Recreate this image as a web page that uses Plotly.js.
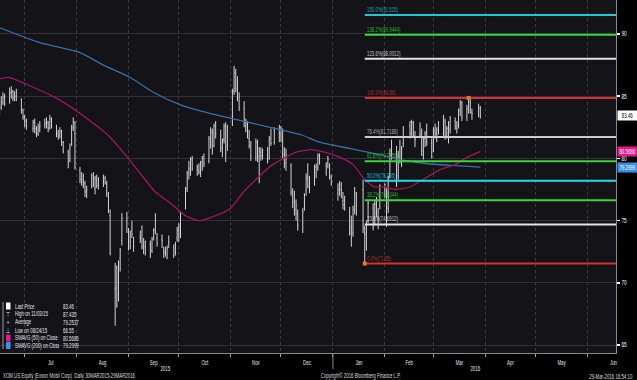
<!DOCTYPE html>
<html><head><meta charset="utf-8">
<script src="https://cdn.plot.ly/plotly-3.0.1.min.js"></script>
<style>html,body{margin:0;padding:0;background:#000;}#chart{width:637px;height:380px;}</style>
</head><body><div id="chart"></div>
<script>
// ---- categories: trading days shown (month, days) ----
const tradingDays = [
 ['2015-06', [16,17,18,19,22,23,24,25,26,29,30]],
 ['2015-07', [1,2,6,7,8,9,10,13,14,15,16,17,20,21,22,23,24,27,28,29,30,31]],
 ['2015-08', [3,4,5,6,7,10,11,12,13,14,17,18,19,20,21,24,25,26,27,28,31]],
 ['2015-09', [1,2,3,4,8,9,10,11,14,15,16,17,18,21,22,23,24,25,28,29,30]],
 ['2015-10', [1,2,5,6,7,8,9,12,13,14,15,16,19,20,21,22,23,26,27,28,29,30]],
 ['2015-11', [2,3,4,5,6,9,10,11,12,13,16,17,18,19,20,23,24,25,27,30]],
 ['2015-12', [1,2,3,4,7,8,9,10,11,14,15,16,17,18,21,22,23,24,28,29,30,31]],
 ['2016-01', [4,5,6,7,8,11,12,13,14,15,19,20,21,22,25,26,27,28,29]],
 ['2016-02', [1,2,3,4,5,8,9,10,11,12,16,17,18,19,22,23,24,25,26,29]],
 ['2016-03', [1,2,3,4,7,8,9,10,11,14,15,16,17,18,21,22,23,24,28,29]]
];
// ---- OHLC values ----
const open = [
 83.8,84.1,84.5,84.9,84.6,85.3,85.4,84.9,85.0,84.8,83.9,
 83.3,83.0,82.4,82.9,82.3,82.0,82.5,82.7,82.8,82.9,82.5,83.1,82.5,82.0,81.8,82.2,81.3,80.5,79.8,81.1,82.5,82.0,
 79.0,78.4,78.2,78.0,77.3,77.8,78.4,77.6,78.3,77.8,78.1,78.4,77.9,77.0,75.4,69.5,71.2,69.6,72.0,73.4,74.9,
 74.0,73.3,74.2,73.4,73.6,74.5,72.8,72.9,73.1,72.6,73.6,74.2,73.6,73.5,72.6,72.4,72.0,73.2,72.8,72.4,73.6,
 74.2,73.9,76.0,77.6,79.1,79.0,79.9,79.1,79.0,78.9,79.7,80.1,79.8,81.5,82.1,81.0,82.8,81.8,80.8,81.5,82.5,81.0,
 82.7,85.4,86.8,85.7,84.6,84.0,82.6,82.9,81.6,81.0,80.1,81.2,80.2,80.5,80.4,80.3,80.0,81.6,81.3,82.0,
 81.8,82.2,80.4,79.6,79.4,76.9,76.5,75.9,75.5,74.8,76.0,77.4,78.5,77.6,78.0,79.3,79.3,80.1,79.4,79.6,79.5,78.5,
 77.2,77.6,77.5,76.6,76.6,75.8,74.5,74.0,75.8,76.2,77.5,73.9,74.0,75.0,76.0,74.8,76.4,75.3,76.2,
 77.4,77.0,76.0,78.6,80.3,80.6,78.6,80.7,79.4,81.2,82.6,82.4,82.9,81.6,81.9,82.2,80.3,81.6,82.2,81.2,
 80.6,82.2,82.0,82.5,82.0,83.0,82.0,82.5,82.3,83.0,82.4,82.6,83.9,84.5,83.4,83.9,84.5,83.7,83.8,84.0
];
const high = [
 84.5,85.0,85.3,85.2,85.7,85.8,85.5,85.4,85.6,84.8,84.0,
 83.5,83.2,83.1,83.2,82.6,82.8,83.0,83.2,83.3,83.0,83.5,83.3,82.7,82.3,82.5,82.3,81.4,80.7,81.2,82.7,83.3,83.0,
 79.3,78.9,78.8,78.2,77.8,78.8,78.9,78.6,78.7,78.5,78.7,78.6,78.2,77.3,75.9,71.6,71.4,71.8,72.8,75.6,75.7,
 74.4,74.2,75.0,73.7,74.2,74.6,73.6,73.4,73.4,73.7,74.4,75.6,74.0,73.9,72.9,72.9,73.0,73.8,73.1,73.3,74.5,
 74.8,75.7,77.7,79.0,79.8,80.1,80.2,79.5,79.6,79.8,80.2,80.4,81.8,82.5,82.4,82.8,83.0,82.3,81.6,82.8,82.9,82.7,
 85.6,87.435,87.2,86.6,85.3,84.6,83.2,83.0,82.3,81.4,81.6,81.5,80.9,80.9,80.8,80.9,81.8,82.4,82.5,82.7,
 82.6,82.4,80.9,80.8,79.6,77.6,77.4,76.7,75.9,76.0,77.2,78.8,79.6,78.6,79.5,79.6,80.4,80.4,79.7,80.2,79.6,78.7,
 78.0,78.2,78.1,77.3,77.0,76.1,75.4,76.2,77.7,77.3,78.3,74.6,75.0,76.6,76.4,76.6,76.9,76.0,77.9,
 78.0,77.6,78.6,80.8,81.5,81.0,80.6,81.5,81.0,82.6,83.0,83.1,83.0,82.2,82.9,82.4,81.7,82.2,82.8,81.6,
 82.5,82.8,82.5,83.0,83.5,83.2,82.6,83.0,83.4,83.3,83.0,84.0,84.7,84.6,84.3,84.86,84.8,84.0,84.4,84.2
];
const low = [
 83.4,83.9,84.3,84.2,84.4,84.8,84.6,84.6,84.6,83.6,83.1,
 82.5,82.3,82.1,82.0,81.7,81.8,82.1,82.4,82.4,82.1,82.3,82.4,81.7,81.5,81.6,81.0,80.4,79.2,79.7,81.0,82.2,79.1,
 78.0,77.8,77.6,76.9,76.8,77.6,77.7,77.1,77.6,77.5,77.7,77.9,76.9,75.6,72.2,66.55,68.0,68.5,70.9,73.0,74.0,
 72.6,72.7,73.6,72.5,73.2,72.7,72.3,72.2,72.0,72.4,73.4,73.9,72.9,72.8,72.0,72.1,71.9,72.8,72.0,72.2,73.3,
 73.3,73.6,75.9,77.3,78.3,78.6,79.0,78.6,78.7,78.5,79.0,79.3,79.6,80.8,80.3,80.9,81.6,80.5,80.1,81.2,79.7,80.6,
 82.6,85.1,85.3,84.6,83.8,82.5,82.1,81.6,80.8,79.8,79.8,79.7,78.0,79.8,79.9,79.6,79.9,81.0,81.1,81.3,
 81.3,80.0,79.2,79.0,77.0,76.0,75.4,75.0,74.2,74.0,75.8,77.0,77.6,77.2,77.8,78.4,79.0,79.5,78.6,79.2,78.3,77.8,
 76.6,77.0,76.8,75.9,75.8,73.8,72.9,73.7,75.5,75.4,74.0,71.55,72.6,74.8,74.2,74.6,75.3,74.3,75.9,
 76.8,74.5,75.6,78.4,79.9,77.7,78.3,79.6,79.3,80.9,81.6,81.8,81.7,80.9,81.7,80.2,79.9,80.9,81.0,80.0,
 80.5,81.6,81.3,81.9,81.8,81.5,81.6,81.2,82.0,82.3,82.0,82.4,83.4,83.0,83.0,83.6,83.6,83.1,83.3,83.2
];
const close = [
 84.1,84.6,84.9,84.4,85.3,85.4,84.9,85.0,85.3,83.9,83.3,
 83.0,82.6,82.9,82.4,81.9,82.3,82.6,82.8,83.0,82.4,83.2,82.6,82.0,81.8,82.2,81.3,80.6,79.6,80.9,82.4,82.9,79.3,
 78.3,78.1,77.9,77.3,77.5,78.6,77.9,78.4,77.8,78.3,78.5,78.0,77.2,75.8,72.4,69.6,68.2,71.6,72.6,75.2,75.2,
 72.9,74.0,73.9,72.9,74.1,72.9,73.2,73.3,72.3,73.5,74.2,74.0,73.2,73.4,72.4,72.5,72.8,73.3,72.2,73.0,74.3,
 74.5,75.6,77.5,78.8,79.2,79.9,79.2,79.3,78.9,79.6,80.0,79.6,81.6,82.2,80.6,82.6,82.0,80.8,81.4,82.6,80.4,82.5,
 85.3,86.9,85.6,84.9,84.1,82.9,82.8,81.9,81.0,80.2,81.3,80.1,80.6,80.2,80.5,79.9,81.5,81.2,82.2,81.7,
 82.3,80.3,79.5,80.3,77.3,76.5,75.8,76.2,74.6,75.7,77.0,78.4,77.8,77.6,79.3,78.8,80.2,79.7,79.1,79.9,78.5,77.95,
 77.5,77.9,77.4,76.3,76.0,74.0,73.6,75.9,77.2,76.9,74.4,73.9,74.4,76.4,74.5,76.3,75.6,75.7,77.85,
 77.9,75.6,78.4,80.6,81.0,79.0,80.2,79.9,80.8,82.4,82.0,82.9,81.9,81.5,82.6,80.6,81.5,82.0,81.3,80.1,
 82.4,82.0,82.3,82.2,83.3,81.8,82.4,81.6,83.2,82.6,82.7,83.8,84.4,83.3,84.0,84.6,83.9,83.6,84.1,83.46
];
// ---- moving averages (read at sample dates) ----
const sma200Dates = ['2015-06-16','2015-07-10','2015-08-03','2015-08-17','2015-09-02','2015-09-16','2015-10-02','2015-10-20','2015-11-02','2015-11-13','2015-12-01','2015-12-13','2015-12-24','2016-01-11','2016-01-29','2016-02-10','2016-02-28','2016-03-17','2016-03-29'];
const sma200 = [90.5,89.3,88.5,87.5,86.5,85.3,84.3,83.6,83.2,82.85,82.3,81.9,81.3,80.8,80.3,79.9,79.55,79.4,79.2999];
const sma50Dates = ['2015-06-16','2015-06-22','2015-07-03','2015-07-19','2015-07-31','2015-08-15','2015-08-21','2015-08-30','2015-09-08','2015-09-17','2015-09-26','2015-10-05','2015-10-13','2015-10-23','2015-11-01','2015-11-08','2015-11-16','2015-11-25','2015-12-04','2015-12-10','2015-12-19','2015-12-27','2016-01-05','2016-01-13','2016-01-20','2016-01-26','2016-02-01','2016-02-07','2016-02-16','2016-02-25','2016-03-05','2016-03-14','2016-03-20','2016-03-29'];
const sma50 = [86.4,86.5,85.9,84.9,83.9,82.4,81.7,80.3,78.8,77.3,76.4,75.4,75.0,75.4,76.0,77.2,78.3,79.4,80.1,80.5,80.7,80.5,80.1,79.5,78.3,77.7,77.7,77.5,77.7,78.4,79.1,79.5,80.0,80.5686];
// ---- Fibonacci retracement ----
const fibPct = ['150.0%','138.2%','123.6%','100.0%','76.4%','61.8%','50.0%','38.2%','23.6%','0.0%'];
const fibVal = [91.515,89.9444,88.0012,84.86,81.7188,79.7756,78.205,76.6344,74.6912,71.55];
const fibColor = ['#1cc6d6','#36d636','#e4e4e4','#d83030','#cccccc','#36d636','#20dff0','#36d636','#e4e4e4','#d83030'];
const fibAnchorDates = ['2016-01-20','2016-03-22'];
const fibAnchorVals = [71.55, 84.86];
// ---- right-axis value tags ----
const tagVals = [83.46, 80.5686, 79.2999];
const tagText = ['83.46','80.5686','79.2999'];
const tagBg = ['#ffffff','#e8178c','#3a90e8'];
const tagFg = ['#000000','#ffffff','#ffffff'];
// ---- legend ----
const legendLabels = ['Last Price','High on 11/03/15','Average','Low on 08/24/15','SMAVG (50) on Close','SMAVG (200) on Close'];
const legendValues = ['83.46','87.435','79.2537','66.55','80.5686','79.2999'];
const legendMarks = ['sq','\u22A4','+','\u22A5','sq','sq'];
const legendColors = ['#ffffff','#ffffff','#ffffff','#ffffff','#e8178c','#3a90e8'];
const yearLabels = ['2015','2016'];
const yearPos = ['2015-09-23','2016-03-26'];
const footer = ['XOM US Equity (Exxon Mobil Corp)  Daily 30MAR2015-29MAR2016','Copyright\u00A9 2016 Bloomberg Finance L.P.','29-Mar-2016 16:54:10'];

const dates = [];
tradingDays.forEach(([m, ds]) => ds.forEach(d => dates.push(m + '-' + String(d).padStart(2,'0'))));

const FONT = 'Liberation Sans, Arial, sans-serif';
const X0 = '2015-06-16 06:00', X1 = '2016-06-18';
const PW = 616, PH = 353;
const px = v => v / PW, py = v => (PH - v) / PH;
const TXT = '#e6e6e6';

const traces = [];
traces.push({type:'scatter', mode:'lines', x:sma200Dates, y:sma200, line:{color:'#3a6ea8', width:1.3, shape:'spline', smoothing:0.6}, hoverinfo:'skip'});
traces.push({type:'scatter', mode:'lines', x:sma50Dates, y:sma50, line:{color:'#a3155e', width:1.3, shape:'spline', smoothing:0.6}, hoverinfo:'skip'});
fibVal.forEach((v,i) => traces.push({type:'scatter', mode:'lines', x:[fibAnchorDates[0], X1], y:[v,v], line:{color:fibColor[i], width:2}, hoverinfo:'skip'}));
traces.push({type:'ohlc', x:dates, open:open, high:high, low:low, close:close, tickwidth:0.35,
  increasing:{line:{color:'#d4d4d4', width:1}}, decreasing:{line:{color:'#d4d4d4', width:1}}, hoverinfo:'skip'});
traces.push({type:'scatter', mode:'markers', x:fibAnchorDates, y:fibAnchorVals, marker:{symbol:'square', size:4, color:'#e07a24'}, hoverinfo:'skip'});

const ann = [];
fibVal.forEach((v,i) => ann.push({x:fibAnchorDates[0], y:v, xref:'x', yref:'y', xanchor:'left', yanchor:'bottom', align:'left', yshift:-1, width:34,
  text: fibPct[i] + '(' + v + ')', showarrow:false, font:{family:FONT, size:6.5, color:fibColor[i]}, opacity:0.8}));
tagVals.forEach((v,i) => ann.push({x:1, y:v, xref:'paper', yref:'y', xanchor:'left', yanchor:'middle', xshift:1, width:18, height:8, align:'center',
  text: tagText[i], showarrow:false, bgcolor:tagBg[i], borderpad:0.5, font:{family:FONT, size:6.5, color:tagFg[i]}}));
const legRows = [306, 314, 322, 330, 338, 345.5];
const shapes = [];
legendLabels.forEach((t,i) => {
  ann.push({x:px(13), y:py(legRows[i]), xref:'paper', yref:'paper', xanchor:'left', yanchor:'middle', align:'left', width:44, text:t, showarrow:false, font:{family:FONT, size:6.5, color:TXT}});
  ann.push({x:px(60.5), y:py(legRows[i]), xref:'paper', yref:'paper', xanchor:'left', yanchor:'middle', align:'left', width:18, text:legendValues[i], showarrow:false, font:{family:FONT, size:6.5, color:TXT}});
  if (legendMarks[i] === 'sq') {
    shapes.push({type:'rect', xref:'paper', yref:'paper', x0:px(6), x1:px(10.5), y0:py(legRows[i]+3.5), y1:py(legRows[i]-3.5), fillcolor:legendColors[i], line:{width:0}});
  } else {
    ann.push({x:px(8.3), y:py(legRows[i]), xref:'paper', yref:'paper', xanchor:'center', yanchor:'middle', text:legendMarks[i], showarrow:false, font:{family:FONT, size:6.5, color:TXT}});
  }
});
shapes.push({type:'line', xref:'paper', yref:'paper', x0:px(3), x1:px(3), y0:py(302), y1:py(349), line:{color:'#9a9a9a', width:1}});
yearLabels.forEach((t,i) => ann.push({x:yearPos[i], y:py(368.5), xref:'x', yref:'paper', xanchor:'center', yanchor:'middle', text:t, showarrow:false, font:{family:FONT, size:6.5, color:TXT}}));
shapes.push({type:'line', xref:'x', yref:'paper', x0:'2016-01-01', x1:'2016-01-01', y0:0, y1:py(369), line:{color:'#8a8a8a', width:1}});
ann.push({x:px(1), y:py(376), xref:'paper', yref:'paper', xanchor:'left', yanchor:'middle', align:'left', text:footer[0], showarrow:false, font:{family:FONT, size:6.5, color:'#dddddd'}});
ann.push({x:px(361), y:py(376), xref:'paper', yref:'paper', xanchor:'center', yanchor:'middle', text:footer[1], showarrow:false, font:{family:FONT, size:6.5, color:'#dddddd'}});
ann.push({x:px(635), y:py(376), xref:'paper', yref:'paper', xanchor:'right', yanchor:'middle', align:'right', text:footer[2], showarrow:false, font:{family:FONT, size:6.5, color:'#dddddd'}});

const layout = {
  width:637, height:380, margin:{l:0, r:21, t:0, b:27},
  paper_bgcolor:'#000000', plot_bgcolor:'#131318', showlegend:false,
  font:{family:FONT, size:6.5, color:TXT},
  xaxis:{type:'date', range:[X0, X1], rangeslider:{visible:false}, dtick:'M1', tick0:'2015-07-01', tickformat:'%b',
    ticklabelmode:'period', ticks:'outside', ticklen:3, tickcolor:'#9a9a9a', tickfont:{family:FONT, size:6.5, color:TXT},
    showgrid:true, gridcolor:'#3a3a42', griddash:'dot', gridwidth:1, showline:true, linecolor:'#8a8a8a', linewidth:1, zeroline:false, fixedrange:true},
  yaxis:{side:'right', range:[64.36, 92.73], tickvals:[65,70,75,80,85,90], ticks:'outside', ticklen:3, tickwidth:1.5, tickcolor:'#ffffff',
    tickfont:{family:FONT, size:7, color:'#ffffff'}, showgrid:true, gridcolor:'#303036', gridwidth:1, showline:true, linecolor:'#8a8a8a', zeroline:false, fixedrange:true},
  annotations:ann, shapes:shapes
};
// condense all texts horizontally so the footer spans the same width as in the reference (~132 px)
Plotly.newPlot('chart', traces, layout, {staticPlot:true, displayModeBar:false}).then(gd => {
  const texts = Array.from(gd.querySelectorAll('text'));
  const foot = texts.find(t => t.textContent === footer[0]);
  const K = foot ? Math.min(1, 132 / foot.getComputedTextLength()) : 1;
  texts.forEach(t => {
    const w = t.getComputedTextLength();
    if (w > 0 && K < 1) { t.setAttribute('textLength', (w * K).toFixed(2)); t.setAttribute('lengthAdjust', 'spacingAndGlyphs'); }
  });
});
</script></body></html>
